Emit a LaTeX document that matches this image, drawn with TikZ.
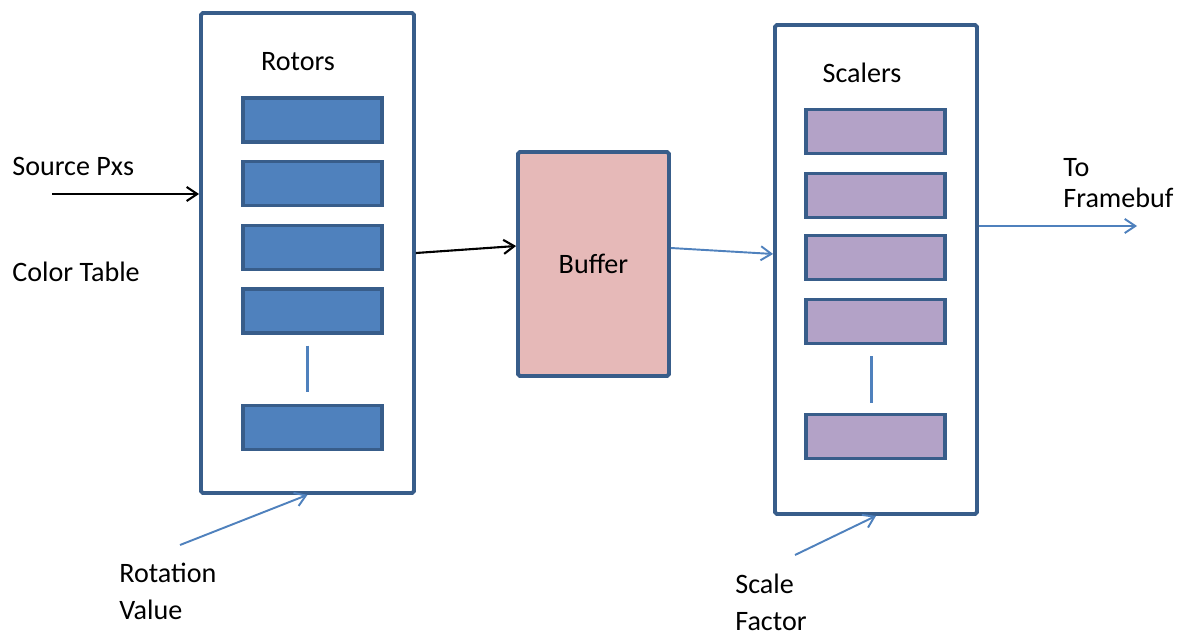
\documentclass[tikz,border=0pt]{standalone}
\usepackage{fontspec}
\setmainfont{Carlito}
\usepackage{xcolor}
\usetikzlibrary{arrows.meta, positioning, calc}
\definecolor{edgeblue}{RGB}{56,93,138}
\definecolor{rotorblue}{RGB}{79,129,189}
\definecolor{bufferpink}{RGB}{230,185,184}
\definecolor{scalerpurple}{RGB}{179,162,199}

\begin{document}
\begin{tikzpicture}[
    x=0.02cm, y=-0.02cm,
    node distance=0.33cm,
    font=\fontsize{16}{19}\selectfont,
    stage/.style={
        rectangle,
        draw=edgeblue,
        line width=2.2pt,
        rounded corners=1pt
    },
    rotor/.style={
        rectangle,
        draw=edgeblue,
        fill=rotorblue,
        line width=1.8pt,
        minimum width=2.78cm,
        minimum height=0.88cm
    },
    scaler/.style={rotor, fill=scalerpurple},
    tag/.style={anchor=west, align=left, inner sep=0pt},
    darrow/.style={-{Straight Barb[length=6pt,width=8pt]}, line width=1.2pt},
    barrow/.style={darrow, color=rotorblue, line width=1.1pt}
]
\useasboundingbox (0,0) rectangle (1183,635);

% rotor stage
\node[stage, minimum width=4.26cm, minimum height=9.6cm] (rotors) at (307.5,253) {};
\node (rotorstitle) at (298,62) {Rotors};
\node[rotor] (r1) at (312.5,120) {};
\node[rotor, below=of r1] (r2) {};
\node[rotor, below=of r2] (r3) {};
\node[rotor, below=of r3] (r4) {};
\node[rotor, below=1.39cm of r4] (r5) {};
\draw[rotorblue, line width=1.3pt] ($(r4.south)+(-5,11)$) -- ($(r5.north)+(-5,-12)$);

% buffer
\node[stage, fill=bufferpink, minimum width=3.02cm, minimum height=4.48cm] (buffer) at (593.5,264) {Buffer};

% scaler stage
\node[stage, minimum width=4.04cm, minimum height=9.78cm] (scalers) at (876,269.5) {};
\node (scalerstitle) at (862,73) {Scalers};
\node[scaler] (s1) at (875.5,131.5) {};
\node[scaler, below=of s1] (s2) {};
\node[scaler, below=0.31cm of s2] (s3) {};
\node[scaler, below=of s3] (s4) {};
\node[scaler, below=1.36cm of s4] (s5) {};
\draw[rotorblue, line width=1.3pt] ($(s4.south)+(-4,11)$) -- ($(s5.north)+(-4,-10)$);

% inputs and outputs
\node[tag] (srcpx) at (12,166) {Source Pxs};
\node[tag] (colortab) at (12,272) {Color Table};
\node[tag] (framebuf) at (1063,183) {To\\[-1pt]Framebuf};
\node[tag] (rotval) at (119,591) {Rotation\\[2pt]Value};
\node[tag] (scalefac) at (735,602) {Scale\\[2pt]Factor};
\coordinate (srcin) at (52,194);
\coordinate (fbout) at (1137,226);
\coordinate (rotin) at (180,545);
\coordinate (scalein) at (795,555);

\draw[darrow] (srcin) -- (srcin -| rotors.west);
\draw[darrow] (rotors.east) -- ($(buffer.west)+(0,-18)$);
\draw[barrow] ($(buffer.east)+(0,-16)$) -- ($(scalers.west)+(0,-15.5)$);
\draw[barrow] ($(scalers.east)+(0,-43.5)$) -- (fbout);
\draw[barrow] (rotin) -- (rotors.south);
\draw[barrow] (scalein) -- (scalers.south);

\end{tikzpicture}
\end{document}
